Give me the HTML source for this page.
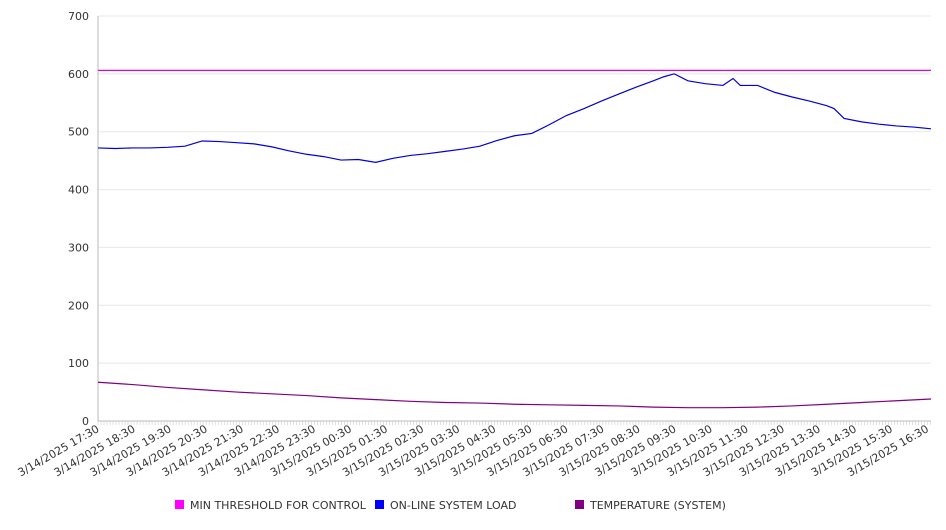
<!DOCTYPE html>
<html><head><meta charset="utf-8"><style>
body{margin:0;background:#fff;width:946px;height:526px;overflow:hidden;font-family:"DejaVu Sans","Liberation Sans",sans-serif}
svg text{font-family:"DejaVu Sans","Liberation Sans",sans-serif;font-size:11px;fill:#333}
</style></head><body>
<svg id="chart" width="946" height="526" xmlns="http://www.w3.org/2000/svg"></svg>
<script>
const xLabels=["3/14/2025 17:30","3/14/2025 18:30","3/14/2025 19:30","3/14/2025 20:30","3/14/2025 21:30","3/14/2025 22:30","3/14/2025 23:30","3/15/2025 00:30","3/15/2025 01:30","3/15/2025 02:30","3/15/2025 03:30","3/15/2025 04:30","3/15/2025 05:30","3/15/2025 06:30","3/15/2025 07:30","3/15/2025 08:30","3/15/2025 09:30","3/15/2025 10:30","3/15/2025 11:30","3/15/2025 12:30","3/15/2025 13:30","3/15/2025 14:30","3/15/2025 15:30","3/15/2025 16:30"];
const yTicks=[0,100,200,300,400,500,600,700];
const loadHours=[0,0.48,0.96,1.44,1.93,2.41,2.89,3.37,3.85,4.33,4.81,5.29,5.78,6.26,6.74,7.22,7.7,8.18,8.66,9.14,9.63,10.11,10.59,11.07,11.55,12.03,12.51,12.99,13.48,13.96,14.44,14.92,15.4,15.69,15.98,16.36,16.84,17.33,17.61,17.81,18.29,18.77,19.25,19.73,20.21,20.41,20.69,21.18,21.66,22.14,22.62,23.1];
const loadValues=[472,471,472,472,473,475,484,483,481,479,474,467,461,457,451,452,447,454,459,462,466,470,475,485,493,497,512,528,540,553,565,577,588,595,600,588,583,580,592,580,580,568,560,553,545,540,523,517,513,510,508,505];
const tempHours=[0,0.96,1.93,2.89,3.85,4.81,5.78,6.74,7.7,8.66,9.63,10.59,11.55,12.51,13.48,14.44,15.4,16.36,17.33,18.29,19.25,20.21,21.18,22.14,23.1];
const tempValues=[67,63,58,54,50,47,44,40,37,34,32,31,29,28,27,26,24,23,23,24,26,29,32,35,38];
const thresholdValue=606;
const SPAN=23.1;
const X0=98,X1=931,Y0=421,Y1=16;
const xs=h=>X0+(X1-X0)*h/SPAN;
const ys=v=>Y0-(Y0-Y1)*v/700;
const svg=document.getElementById('chart');
const NS='http://www.w3.org/2000/svg';
function mk(t,a){const e=document.createElementNS(NS,t);for(const k in a)e.setAttribute(k,a[k]);svg.appendChild(e);return e;}
yTicks.forEach(v=>{
  const g=mk('line',{x1:X0,x2:X1,y1:ys(v),y2:ys(v),stroke:v===0?'#bbb':'#e8e8e8'});
  
  
  const t=mk('text',{x:89,y:ys(v)+4,'text-anchor':'end'});t.textContent=v;
  
  
});
const ax=mk('line',{x1:X0,x2:X0,y1:Y1,y2:Y0,stroke:'#bbb'});


for(let m=0;m<=Math.floor(SPAN*12);m++){const x=xs(m/12);const tk=mk('line',{x1:x,x2:x,y1:Y0,y2:Y0+4,stroke:'#ccc','stroke-width':0.6});

}
xLabels.forEach((l,i)=>{const x=xs(i)+2;const t=mk('text',{x:x,y:Y0+10,'text-anchor':'end',transform:`rotate(-30 ${x} ${Y0+10})`});t.textContent=l;

});
const th=mk('line',{x1:X0,x2:X1,y1:ys(thresholdValue),y2:ys(thresholdValue),stroke:'#e000e0','stroke-width':1.2});


function poly(hs,vs,c,n){const p=mk('polyline',{points:hs.map((h,i)=>xs(h)+','+ys(vs[i])).join(' '),fill:'none',stroke:c,'stroke-width':1.2});

}
poly(loadHours,loadValues,'#0000dd','system-load-line');
poly(tempHours,tempValues,'#800080','temperature-line');
[[175,'#ff00ff','MIN THRESHOLD FOR CONTROL','legend-min-threshold'],[375,'#0000ff','ON-LINE SYSTEM LOAD','legend-system-load'],[575,'#800080','TEMPERATURE (SYSTEM)','legend-temperature']].forEach(([x,c,l,n])=>{
  const r=mk('rect',{x:x,y:500,width:9,height:9,fill:c});
  
  
  const t=mk('text',{x:x+15,y:509});t.textContent=l;
  
  
});
</script>
</body></html>
